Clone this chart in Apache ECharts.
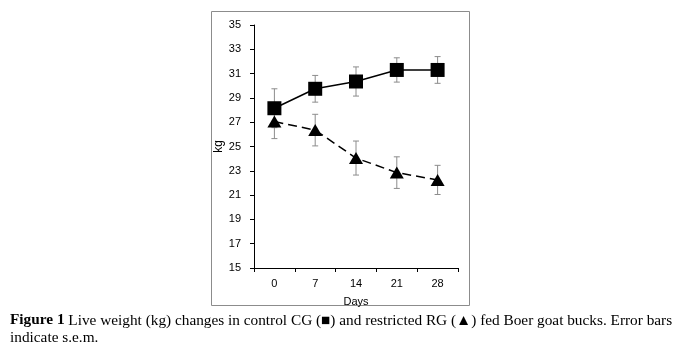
<html>
<head>
<meta charset="UTF-8">
<title>Live weight</title>
<script src="https://cdn.jsdelivr.net/npm/echarts@6/dist/echarts.min.js"></script>
<style>
html,body{margin:0;padding:0;background:#fff;}
#main{width:693px;height:358px;}
</style>
</head>
<body>
<div id="main"></div>
<script type="text/javascript">
// days on x axis
var days = ['0', '7', '14', '21', '28'];
// control group CG (squares)
var cgMean = [28.15, 29.75, 30.35, 31.3, 31.3];
var cgErr = [1.6, 1.1, 1.2, 1.0, 1.1];
// restricted group RG (triangles)
var rgMean = [27.05, 26.35, 24.05, 22.85, 22.25];
var rgErr = [1.4, 1.3, 1.4, 1.3, 1.2];

var myChart = echarts.init(document.getElementById('main'));

// error bar drawing through the axes
function errorBars(means, errs){
	var d = [];
	for(var i = 0; i < means.length; i++){
		d.push([i, means[i] - errs[i], means[i] + errs[i]]);
	}
	return {
		type: 'custom',
		z: 1,
		data: d,
		renderItem: function(params, api){
			var lo = api.coord([api.value(0), api.value(1)]);
			var hi = api.coord([api.value(0), api.value(2)]);
			var w = 3;
			var st = {stroke: '#8c8c8c', lineWidth: 1};
			return {
				type: 'group',
				children: [
					{type: 'line', shape: {x1: hi[0], y1: hi[1], x2: lo[0], y2: lo[1]}, style: st},
					{type: 'line', shape: {x1: hi[0] - w, y1: hi[1], x2: hi[0] + w, y2: hi[1]}, style: st},
					{type: 'line', shape: {x1: lo[0] - w, y1: lo[1], x2: lo[0] + w, y2: lo[1]}, style: st}
				]
			};
		}
	};
}

var sans = 'Liberation Sans, Arial, sans-serif';

var option = {
	animation: false,
	backgroundColor: '#fff',
	textStyle: {fontFamily: sans},
	grid: {left: 254, right: 235, top: 25, bottom: 90},
	xAxis: {
		type: 'category',
		data: days,
		boundaryGap: true,
		name: 'Days',
		nameLocation: 'middle',
		nameGap: 28,
		nameTextStyle: {color: '#000', fontSize: 11, fontFamily: sans},
		axisLine: {lineStyle: {color: '#000', width: 1}},
		axisTick: {show: true, length: 4, lineStyle: {color: '#000'}},
		axisLabel: {color: '#000', fontSize: 11, margin: 10, fontFamily: sans}
	},
	yAxis: {
		type: 'value',
		min: 15,
		max: 35,
		interval: 2,
		name: 'kg',
		nameLocation: 'middle',
		nameGap: 24,
		nameRotate: 90,
		nameTextStyle: {color: '#000', fontSize: 12, fontFamily: sans},
		axisLine: {show: true, lineStyle: {color: '#000', width: 1}},
		axisTick: {show: true, length: 4, lineStyle: {color: '#000'}},
		splitLine: {show: false},
		axisLabel: {color: '#000', fontSize: 11, margin: 13, fontFamily: sans}
	},
	series: [
		errorBars(cgMean, cgErr),
		errorBars(rgMean, rgErr),
		{
			name: 'CG',
			type: 'line',
			z: 3,
			data: cgMean,
			symbol: 'rect',
			symbolSize: 14,
			itemStyle: {color: '#000'},
			lineStyle: {color: '#000', width: 1.5, type: 'solid'}
		},
		{
			name: 'RG',
			type: 'line',
			z: 3,
			data: rgMean,
			symbol: 'triangle',
			symbolSize: [14, 12],
			itemStyle: {color: '#000'},
			lineStyle: {color: '#000', width: 1.5, type: [9, 5]}
		}
	],
	graphic: [
		{
			type: 'rect',
			z: 0,
			shape: {x: 211.5, y: 11.5, width: 258, height: 294},
			style: {fill: 'none', stroke: '#8c8c8c', lineWidth: 1}
		},
		{
			type: 'text',
			left: 10,
			top: 312,
			style: {
				text: '{b|Figure 1} Live weight (kg) changes in control CG (\u25A0) and restricted RG (\u25B2) fed Boer goat bucks. Error bars\nindicate s.e.m.',
				fill: '#000',
				font: '15.3px "Liberation Serif"',
				lineHeight: 17,
				rich: {
					b: {fontWeight: 'bold', fontSize: 15.3, fontFamily: 'Liberation Serif', lineHeight: 17}
				}
			}
		}
	]
};

myChart.setOption(option);
</script>
</body>
</html>
